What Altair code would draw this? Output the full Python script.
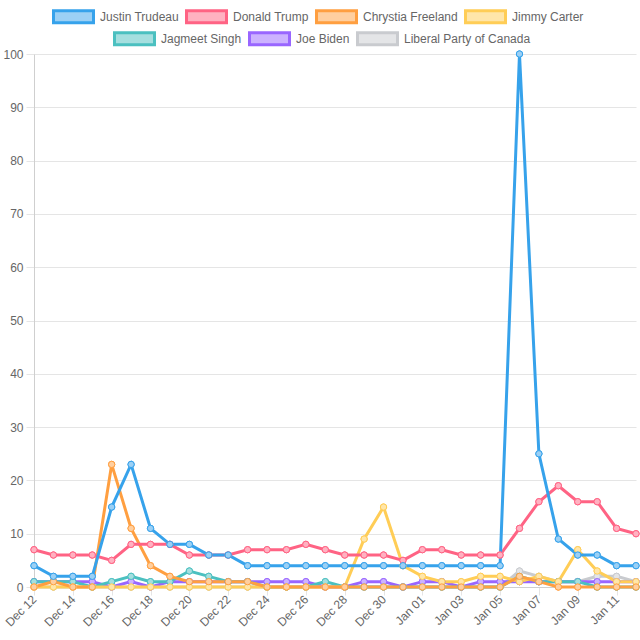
import altair as alt
import pandas as pd

dates = ["Dec 12", "Dec 13", "Dec 14", "Dec 15", "Dec 16", "Dec 17", "Dec 18", "Dec 19",
         "Dec 20", "Dec 21", "Dec 22", "Dec 23", "Dec 24", "Dec 25", "Dec 26", "Dec 27",
         "Dec 28", "Dec 29", "Dec 30", "Dec 31", "Jan 01", "Jan 02", "Jan 03", "Jan 04",
         "Jan 05", "Jan 06", "Jan 07", "Jan 08", "Jan 09", "Jan 10", "Jan 11", "Jan 12"]

series_names = ["Justin Trudeau", "Donald Trump", "Chrystia Freeland", "Jimmy Carter",
                "Jagmeet Singh", "Joe Biden", "Liberal Party of Canada"]

trudeau = [4, 2, 2, 2, 15, 23, 11, 8, 8, 6, 6, 4, 4, 4, 4, 4, 4, 4, 4, 4, 4, 4, 4, 4, 4, 100, 25, 9, 6, 6, 4, 4]
trump = [7, 6, 6, 6, 5, 8, 8, 8, 6, 6, 6, 7, 7, 7, 8, 7, 6, 6, 6, 5, 7, 7, 6, 6, 6, 11, 16, 19, 16, 16, 11, 10]
freeland = [0, 1, 0, 0, 23, 11, 4, 2, 1, 1, 1, 1, 0, 0, 0, 0, 0, 0, 0, 0, 0, 0, 0, 0, 0, 2, 1, 0, 0, 0, 0, 0]
carter = [0, 0, 0, 0, 0, 0, 0, 0, 0, 0, 0, 0, 0, 0, 0, 0, 0, 9, 15, 4, 2, 1, 1, 2, 2, 1, 2, 1, 7, 3, 1, 1]
singh = [1, 1, 1, 0, 1, 2, 1, 1, 3, 2, 1, 1, 0, 0, 0, 1, 0, 0, 0, 0, 0, 0, 0, 0, 0, 2, 1, 1, 1, 0, 0, 0]
biden = [1, 1, 1, 1, 0, 1, 0, 1, 1, 1, 1, 1, 1, 1, 1, 0, 0, 1, 1, 0, 1, 1, 0, 1, 1, 1, 1, 1, 1, 1, 1, 1]
liberal = [0, 0, 0, 0, 0, 0, 0, 0, 0, 0, 0, 0, 0, 0, 0, 0, 0, 0, 0, 0, 0, 0, 0, 0, 0, 3, 2, 1, 1, 2, 2, 1]

stroke_colors = ["#36a2eb", "#ff6384", "#ff9f40", "#ffcd56", "#4bc0c0", "#9966ff", "#c9cbcf"]
fill_colors = ["#9bd0f5", "#ffb1c1", "#ffcf9f", "#ffe6aa", "#a5dfdf", "#ccb2ff", "#e4e5e7"]

all_values = [trudeau, trump, freeland, carter, singh, biden, liberal]
rows = []
# reverse so the first series is drawn on top
for name, vals in reversed(list(zip(series_names, all_values))):
    for d, v in zip(dates, vals):
        rows.append({"date": d, "series": name, "series_b": name, "value": v})
df = pd.DataFrame(rows)

font = "Liberation Sans"
grid = "#e5e5e5"

x_enc = alt.X("date:O", sort=dates,
              scale=alt.Scale(type="point", padding=0),
              axis=alt.Axis(values=dates[::2], title=None, labelAngle=315,
                            labelAlign="right", labelBaseline="middle",
                            labelPadding=2, tickSize=8, tickColor=grid,
                            gridColor=grid, domainColor="#cfcfcf",
                            labelColor="#666", labelFont=font, labelFontSize=12))
y_enc = alt.Y("value:Q", scale=alt.Scale(domain=[0, 100], nice=False),
              axis=alt.Axis(values=list(range(0, 101, 10)), title=None, tickSize=8,
                            tickColor=grid, gridColor=grid, domainColor="#cfcfcf",
                            labelColor="#666", labelFont=font, labelFontSize=12,
                            labelPadding=3))


def make_legend(vals, lx, ly):
    return alt.Legend(title=None, orient="none", legendX=lx, legendY=ly,
                      direction="horizontal", columns=len(vals), values=vals,
                      symbolType="M-1,-0.3H1V0.3H-1Z", symbolSize=1600,
                      symbolStrokeWidth=3, labelFont=font, labelFontSize=12,
                      labelColor="#666", columnPadding=1, rowPadding=0,
                      symbolOffset=0, labelOffset=5, padding=0)


legend_a = make_legend(series_names[:4], 18, -59)
legend_b = make_legend(series_names[4:], 79, -37)

stroke_scale = alt.Scale(domain=series_names, range=stroke_colors)
fill_scale = alt.Scale(domain=series_names, range=fill_colors)

lines = alt.Chart(df).mark_line(strokeWidth=3, interpolate="linear").encode(
    x=x_enc, y=y_enc,
    stroke=alt.Stroke("series:N", scale=stroke_scale, legend=None),
    detail="series:N",
)
points_a = alt.Chart(df).mark_point(filled=True, size=40, strokeWidth=1, opacity=1).encode(
    x=x_enc, y=y_enc,
    stroke=alt.Stroke("series:N", scale=stroke_scale, legend=legend_a),
    fill=alt.Fill("series:N", scale=fill_scale, legend=legend_a),
)
points_b = alt.Chart(df).mark_point(filled=True, size=40, strokeWidth=1, opacity=1).encode(
    x=x_enc, y=y_enc,
    stroke=alt.Stroke("series_b:N", scale=stroke_scale, legend=legend_b),
    fill=alt.Fill("series_b:N", scale=fill_scale, legend=legend_b),
)

chart = alt.layer(lines, points_a, points_b).resolve_scale(
    stroke="independent", fill="independent"
).properties(
    width=602, height=533,
    padding={"left": 34, "top": 54, "right": 4, "bottom": 53},
    autosize=alt.AutoSizeParams(type="none"),
).configure_view(stroke=None)

chart.save("out.html", embed_options={"renderer": "svg", "actions": False})
